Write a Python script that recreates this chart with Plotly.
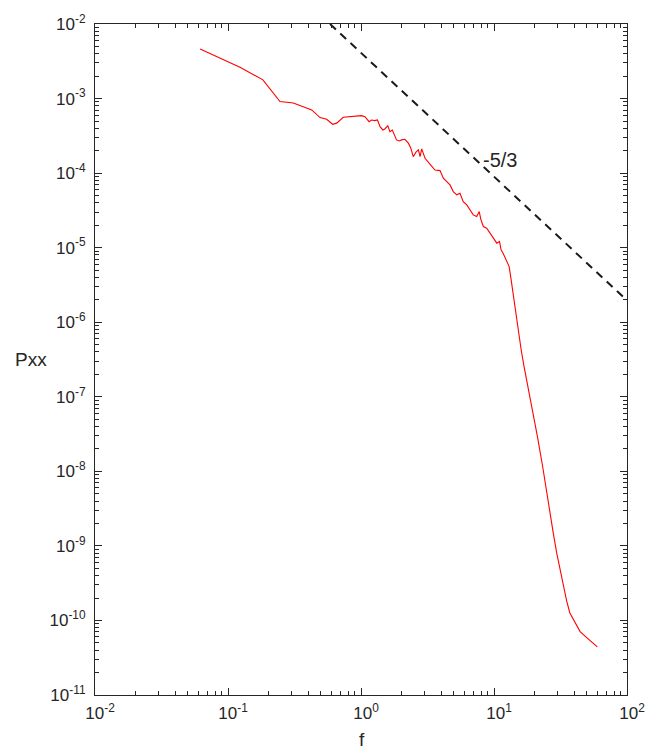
import plotly.graph_objects as go

# Spectrum
freq = [0.0617, 0.123, 0.183, 0.246, 0.310, 0.426, 0.492, 0.552, 0.612, 0.656,
        0.736, 0.804, 1.01, 1.07, 1.15, 1.20, 1.27, 1.33, 1.39, 1.46,
        1.51, 1.59, 1.65, 1.72, 1.78, 1.85, 1.94, 2.02, 2.14, 2.27,
        2.37, 2.47, 2.59, 2.70, 2.78, 2.86, 3.03, 3.15, 3.30, 3.60,
        3.93, 4.16, 4.41, 4.67, 4.94, 5.25, 5.55, 5.87, 6.24, 6.61,
        6.98, 7.41, 7.74, 7.98, 8.32, 8.81, 9.33, 9.89, 10.5, 11.0,
        11.3, 11.7, 12.4, 13.0, 13.4, 14.1, 14.6, 15.2, 16.0, 16.8,
        17.8, 18.9, 19.8, 21.2, 23.2, 24.9, 26.4, 27.9, 29.6, 31.3,
        33.2, 35.2, 37.2, 40.6, 44.4, 49.8, 59.8]
pxx = [4.62e-3, 2.63e-3, 1.78e-3, 9.12e-4, 8.71e-4, 7.03e-4, 5.55e-4, 5.27e-4, 4.52e-4, 4.68e-4,
       5.61e-4, 5.71e-4, 5.90e-4, 5.71e-4, 4.90e-4, 5.16e-4, 5.06e-4, 5.16e-4, 4.20e-4, 3.79e-4,
       3.91e-4, 4.30e-4, 3.60e-4, 3.79e-4, 3.25e-4, 2.79e-4, 2.70e-4, 2.79e-4, 2.84e-4, 2.52e-4,
       2.16e-4, 1.66e-4, 1.91e-4, 2.05e-4, 1.66e-4, 2.11e-4, 1.58e-4, 1.43e-4, 1.32e-4, 1.10e-4,
       1.08e-4, 8.55e-5, 7.69e-5, 6.95e-5, 5.65e-5, 5.11e-5, 5.38e-5, 4.15e-5, 3.75e-5, 3.21e-5,
       2.75e-5, 2.61e-5, 3.05e-5, 2.36e-5, 1.92e-5, 1.82e-5, 1.56e-5, 1.34e-5, 1.15e-5, 1.21e-5,
       9.35e-6, 8.43e-6, 6.85e-6, 5.58e-6, 3.90e-6, 2.0e-6, 1.20e-6, 7.08e-7, 4.27e-7, 2.57e-7,
       1.51e-7, 9.12e-8, 5.50e-8, 2.95e-8, 1.17e-8, 5.13e-9, 2.75e-9, 1.48e-9, 8.04e-10, 4.79e-10,
       2.88e-10, 1.82e-10, 1.26e-10, 9.33e-11, 7.08e-11, 5.89e-11, 4.42e-11]

# -5/3 reference line endpoints
ref_f = [0.585, 100]
ref_p = [1.0e-2, 1.96e-6]

x_tickvals = [1e-2, 1e-1, 1e0, 1e1, 1e2]
x_ticktext = ["10<sup>-2</sup>", "10<sup>-1</sup>", "10<sup>0</sup>", "10<sup>1</sup>", "10<sup>2</sup>"]
y_exps = [-11, -10, -9, -8, -7, -6, -5, -4, -3, -2]
y_tickvals = [10.0 ** e for e in y_exps]
y_ticktext = ["10<sup>%d</sup>" % e for e in y_exps]

axcol = "#262626"
fam = "Liberation Sans, Arial, sans-serif"
font = dict(family=fam, size=17, color=axcol)

# plot box at x 95..627, y 24..695 of the 649x749 window (body margin removed)
L, T, PW, PH = 95, 24, 532, 671
W, H = 649, 749

fig = go.Figure()
fig.add_trace(go.Scatter(x=freq, y=pxx, mode="lines",
                         line=dict(color="#ff0000", width=1.1), showlegend=False))
fig.add_trace(go.Scatter(x=ref_f, y=ref_p, mode="lines",
                         line=dict(color="#1a1a1a", width=2, dash="8px,6px"), showlegend=False))

axis_common = dict(type="log", showgrid=False, zeroline=False, showline=True,
                   linecolor=axcol, linewidth=1, mirror="ticks", ticks="inside",
                   ticklen=7, tickcolor=axcol, tickfont=font, automargin=False,
                   minor=dict(ticks="inside", ticklen=4, tickcolor=axcol, dtick="D1", showgrid=False))

fig.update_xaxes(range=[-2, 2], tickvals=x_tickvals, ticktext=x_ticktext, ticklabelstandoff=3,
                 ticklabelshift=5, **axis_common)
fig.update_yaxes(range=[-11, -2], tickvals=y_tickvals, ticktext=y_ticktext, ticklabelstandoff=5,
                 **axis_common)

def px(xp):
    return (xp - L) / PW

def py(yp):
    return (T + PH - yp) / PH

fig.add_annotation(x=1.045, y=-3.823, xref="x", yref="y", text="-5/3", showarrow=False,
                   font=dict(family=fam, size=20, color=axcol))
fig.add_annotation(x=px(362), y=py(739), xref="paper", yref="paper",
                   text="f", showarrow=False, yanchor="middle", xanchor="center",
                   font=dict(family=fam, size=19, color=axcol))
fig.add_annotation(x=px(31), y=py(359), xref="paper", yref="paper",
                   text="Pxx", showarrow=False, yanchor="middle", xanchor="center",
                   font=dict(family=fam, size=19, color=axcol))

fig.update_layout(
    width=W, height=H,
    margin=dict(l=L, r=W - L - PW, t=T, b=H - T - PH),
    plot_bgcolor="white", paper_bgcolor="white",
    font=font,
)

fig.write_html("out.html", config={"displayModeBar": False},
               post_script="document.body.style.margin='0';document.body.style.overflow='hidden';")
